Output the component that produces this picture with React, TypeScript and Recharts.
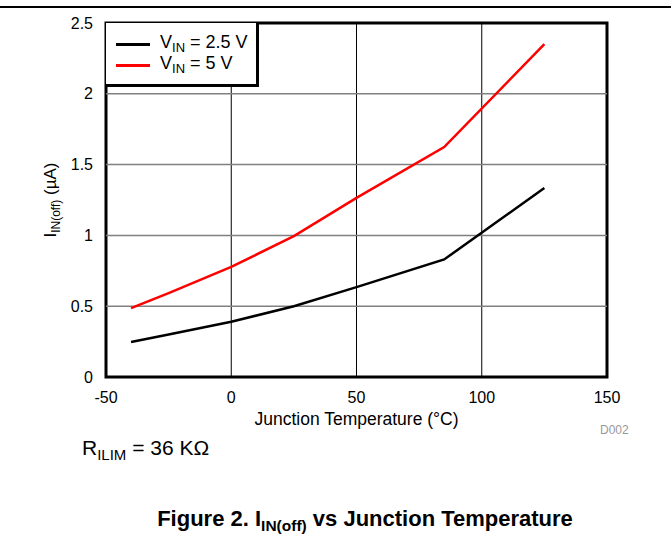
import React from "react";
import {
  LineChart,
  Line,
  XAxis,
  YAxis,
  ReferenceLine,
  ReferenceArea,
} from "recharts";

// junction temperature (°C)
const temps = [-40, -25, 0, 25, 50, 85, 125];
// I_IN(off) in µA
const vin25 = [0.247, 0.3, 0.39, 0.5, 0.635, 0.83, 1.335];
const vin5 = [0.487, 0.592, 0.777, 0.995, 1.265, 1.624, 2.35];

const xTicks = [-50, 0, 50, 100, 150];
const yTicks = [0, 0.5, 1, 1.5, 2, 2.5];

const legendItems = [
  { color: "#000", label: "2.5" },
  { color: "#ff0000", label: "5" },
];

const FONT = "'Liberation Sans', Arial, sans-serif";

const data = temps.map((t, i) => ({ t, a: vin25[i], b: vin5[i] }));

const LegendBox = () => (
  <div
    style={{
      position: "absolute",
      left: 106,
      top: 23,
      width: 153,
      height: 64,
      borderRight: "3px solid #000",
      borderBottom: "3px solid #000",
      background: "#fff",
      fontSize: 18,
      color: "#000",
      boxSizing: "border-box",
      paddingTop: 11,
    }}
  >
    {legendItems.map((r) => (
      <div key={r.label} style={{ display: "flex", alignItems: "center", height: 21 }}>
        <div style={{ width: 34, height: 2.5, background: r.color, marginLeft: 10, marginRight: 10 }} />
        <span style={{ whiteSpace: "nowrap", lineHeight: "18px" }}>
          V<sub style={{ fontSize: 13, verticalAlign: -4 }}>IN</sub> = {r.label} V
        </span>
      </div>
    ))}
  </div>
);

export default function App() {
  return (
    <div style={{ position: "absolute", left: 0, top: 0, width: 671, height: 544, background: "#fff", fontFamily: FONT }}>
      <div style={{ position: "absolute", left: 0, top: 6, width: 671, height: 2, background: "#000" }} />
      <LineChart
        width={671}
        height={544}
        data={data}
        margin={{ top: 23, right: 64, left: 46, bottom: 137 }}
      >
        {xTicks.slice(1, -1).map((x) => (
          <ReferenceLine key={"x" + x} x={x} stroke="#000" strokeWidth={1} />
        ))}
        {yTicks.slice(1, -1).map((y) => (
          <ReferenceLine key={"y" + y} y={y} stroke="#808080" strokeWidth={1.5} />
        ))}
        <XAxis
          type="number"
          dataKey="t"
          domain={[-50, 150]}
          ticks={xTicks}
          axisLine={false}
          tickLine={false}
          tickMargin={9}
          height={30}
          tick={{ fill: "#000", fontSize: 16, fontFamily: FONT }}
          label={{
            content: () => (
              <text x={356.5} y={425} textAnchor="middle" fontSize={17.5} fontFamily={FONT} fill="#000">
                Junction Temperature (°C)
              </text>
            ),
          }}
        />
        <YAxis
          type="number"
          domain={[0, 2.5]}
          ticks={yTicks}
          axisLine={false}
          tickLine={false}
          tickMargin={7}
          width={60}
          tick={{ fill: "#000", fontSize: 16, fontFamily: FONT }}
          label={{
            content: () => (
              <text
                x={56}
                y={200}
                transform="rotate(-90 56 200)"
                textAnchor="middle"
                fontSize={17}
                fontFamily={FONT}
                fill="#000"
              >
                I<tspan fontSize={12} dy={4}>IN(off)</tspan>
                <tspan dy={-4}> (µA)</tspan>
              </text>
            ),
          }}
        />
        <ReferenceArea
          x1={-50}
          x2={150}
          y1={0}
          y2={2.5}
          fill="none"
          stroke="#000"
          strokeWidth={3}
        />
        <Line type="linear" dataKey="a" stroke="#000" strokeWidth={2.5} dot={false} isAnimationActive={false} />
        <Line type="linear" dataKey="b" stroke="#ff0000" strokeWidth={2.5} dot={false} isAnimationActive={false} />
      </LineChart>
      <LegendBox />
      <div style={{ position: "absolute", left: 600, top: 423, fontSize: 12, color: "#999" }}>D002</div>
      <div style={{ position: "absolute", left: 82, top: 436, fontSize: 21, color: "#000", whiteSpace: "nowrap" }}>
        R<sub style={{ fontSize: 15, verticalAlign: -5 }}>ILIM</sub> = 36 KΩ
      </div>
      <div
        style={{
          position: "absolute",
          left: 0,
          width: 730,
          top: 506,
          textAlign: "center",
          fontSize: 22,
          fontWeight: "bold",
          color: "#000",
          whiteSpace: "nowrap",
        }}
      >
        Figure 2. I<sub style={{ fontSize: 15.5, verticalAlign: -5 }}>IN(off)</sub> vs Junction Temperature
      </div>
    </div>
  );
}
